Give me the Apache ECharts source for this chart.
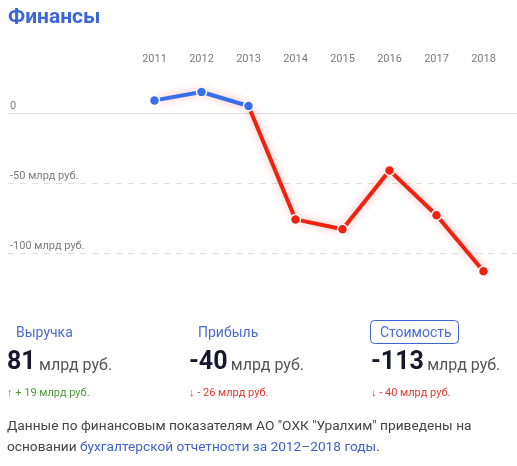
<!DOCTYPE html>
<html><head><meta charset="utf-8">
<script src="https://cdn.jsdelivr.net/npm/echarts@6/dist/echarts.min.js"></script>
<style>html,body{margin:0;padding:0;background:#fff}#c{width:517px;height:466px}</style>
</head><body><div id="c"></div>
<script>
// ---- data ----
const years = ['2011','2012','2013','2014','2015','2016','2017','2018'];
const values = [9, 15, 5, -76, -83, -41, -73, -113];
const yTicks = [0, -50, -100];
const yTickLabels = ['0', '-50 млрд руб.', '-100 млрд руб.'];
const tabs = ['Выручка', 'Прибыль', 'Стоимость'];
const totals = ['81', '-40', '-113'];
const changes = ['↑ + 19 млрд руб.', '↓ - 26 млрд руб.', '↓ - 40 млрд руб.'];
const changeUp = [true, false, false];

const BLUE = '#3a6ee8', RED = '#f2200f';
const FONT = 'Roboto, "Noto Sans", sans-serif';
const chart = echarts.init(document.getElementById('c'), null, {renderer:'canvas'});

// gradient split at zero, computed from the data extent
const vMax = Math.max(...values), vMin = Math.min(...values);
const zf = (vMax - 0) / (vMax - vMin);
const lineGrad = new echarts.graphic.LinearGradient(0, 0, 0, 1, [
  {offset:0, color:BLUE}, {offset:zf, color:BLUE}, {offset:zf, color:RED}, {offset:1, color:RED}
]);

const tabX = [16, 198, 380];
const graphics = [
  {type:'text', left:8, top:7, style:{text:'Финансы', font:'bold 21px ' + FONT, fill:'#3c66d6'}},
  {type:'rect', shape:{x:370.5, y:320.5, width:88, height:23, r:4}, style:{fill:'none', stroke:'#3c66d6', lineWidth:1}}
];
tabs.forEach((t,i)=>{
  graphics.push({type:'text', x:tabX[i], y:333, style:{text:t, font:'14px ' + FONT, fill:'#4a6cd0', verticalAlign:'middle'}});
});
const numX = [7, 189, 371];
totals.forEach((t,i)=>{
  graphics.push({type:'text', x:numX[i], y:375, style:{
    text:'{a|' + t + '} {b|млрд руб.}', verticalAlign:'bottom',
    rich:{a:{font:'bold 25px ' + FONT, fill:'#16172b', lineHeight:25, verticalAlign:'bottom'},
          b:{font:'16px ' + FONT, fill:'#555', lineHeight:16, verticalAlign:'bottom', padding:[0,0,1,0]}}
  }});
  graphics.push({type:'text', x:numX[i], y:393, style:{text:changes[i], font:'11px ' + FONT,
    fill: changeUp[i] ? '#4c9a3c' : '#e23a2f', verticalAlign:'middle'}});
});
graphics.push({type:'text', x:7, y:416, style:{
  text:'{t|Данные по финансовым показателям АО "ОХК "Уралхим" приведены на}\n{t|основании }{l|бухгалтерской отчетности за 2012–2018 годы}{t|.}',
  rich:{t:{font:'13.7px ' + FONT, fill:'#444', lineHeight:21}, l:{font:'13.7px ' + FONT, fill:'#3f63c9', lineHeight:21}}
}});

chart.setOption({
  animation:false,
  backgroundColor:'#fff',
  grid:[
    {left:8, right:0, top:43, bottom:143},
    {left:131, right:10, top:43, bottom:143}
  ],
  xAxis:[
    {gridIndex:0, type:'value', min:0, max:1, axisLine:{show:true, onZero:true, lineStyle:{color:'#dcdcdc', width:1}},
     axisTick:{show:false}, axisLabel:{show:false}, splitLine:{show:false}},
    {gridIndex:1, type:'category', data:years, position:'top', boundaryGap:true,
     axisLine:{show:false}, axisTick:{show:false}, splitLine:{show:false},
     axisLabel:{inside:true, margin:11, color:'#7a7a7a', fontSize:11, fontFamily:FONT}}
  ],
  yAxis:[
    {gridIndex:0, type:'value', min:-150, max:50, interval:50,
     axisLine:{show:false}, axisTick:{show:false},
     axisLabel:{inside:true, margin:2, showMinLabel:false, showMaxLabel:false, color:'#7a7a7a', fontSize:11, fontFamily:FONT,
       verticalAlign:'bottom', padding:[0,0,1,0],
       formatter:v=>{const k=yTicks.indexOf(v); return k<0?'':yTickLabels[k];}},
     splitLine:{show:true, showMinLine:false, showMaxLine:false, lineStyle:{color:'#dedede', type:[6,6], width:1}}},
    {gridIndex:1, type:'value', min:-150, max:50, interval:50, show:false, splitLine:{show:false}}
  ],
  series:[{
    type:'line', xAxisIndex:1, yAxisIndex:1, data:values,
    symbol:'circle', symbolSize:10, showSymbol:true,
    itemStyle:{borderColor:'#fff', borderWidth:1.5, color:p=> p.value >= 0 ? BLUE : RED},
    lineStyle:{width:4, color:lineGrad, shadowBlur:8, shadowColor:'rgba(240,40,20,0.35)'}
  }],
  graphic:graphics
});
</script></body></html>
